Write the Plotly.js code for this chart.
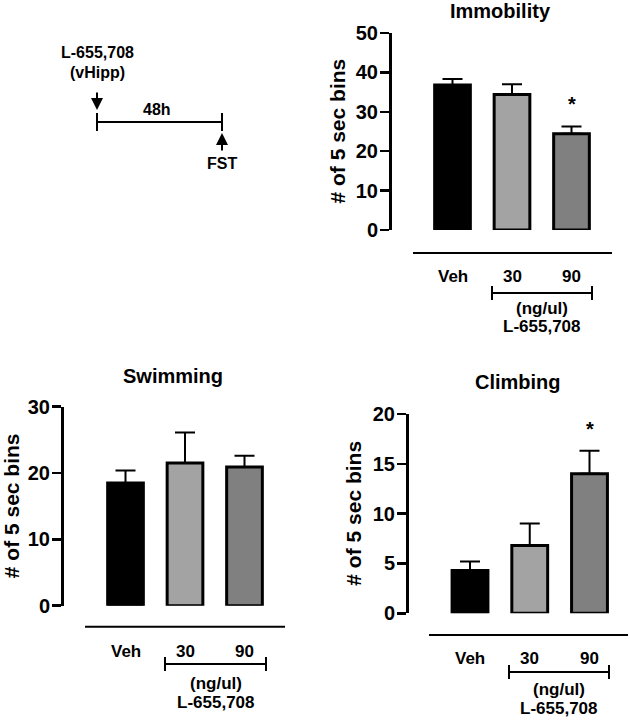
<!DOCTYPE html>
<html><head><meta charset="utf-8">
<script src="https://cdn.plot.ly/plotly-3.0.1.min.js"></script>
<style>html,body{margin:0;padding:0;background:#fff}#chart{width:630px;height:720px}</style>
</head><body><div id="chart"></div>
<script>
// ---- data ----
const groups = ['Veh', '30', '90'];
const immobilityMean = [36.8, 34.4, 24.4];
const immobilityErr = [1.5, 2.6, 1.9];
const swimmingMean = [18.5, 21.5, 20.9];
const swimmingErr = [1.9, 4.6, 1.7];
const climbingMean = [4.3, 6.8, 14.0];
const climbingErr = [0.9, 2.2, 2.3];
const immobilitySig = [false, false, true];
const swimmingSig = [false, false, false];
const climbingSig = [false, false, true];
const barColors = ['#000000', '#a3a3a3', '#808080'];
const yTitle = '# of 5 sec bins';
const doseUnit = '(ng/ul)';
const drugName = 'L-655,708';
const timelineSite = '(vHipp)';
const timelineDelay = '48h';
const timelineTest = 'FST';

// ---- geometry (pixels) ----
const W = 630, H = 720;
const fx = p => p / W, fy = p => 1 - p / H;
const FONT = '"Liberation Sans", Arial, Helvetica, sans-serif';

const panels = [
  {name: 'Immobility', mean: immobilityMean, err: immobilityErr, sig: immobilitySig, yMax: 50, dtick: 10,
   axisX: 390, y0: 230, y1: 33, c0: 452.5, sp: 59.5, lineY: 253, lineL: 413, lineR: 612,
   labY: 276, brY: 293, brL: 492, brR: 592, unitY: 308, drugY: 327, titleX: 500, titleY: 11, yTitleX: 337},
  {name: 'Swimming', mean: swimmingMean, err: swimmingErr, sig: swimmingSig, yMax: 30, dtick: 10,
   axisX: 62, y0: 605.7, y1: 406.7, c0: 125.5, sp: 59.5, lineY: 626.7, lineL: 85, lineR: 285,
   labY: 651, brY: 664, brL: 165, brR: 266, unitY: 683, drugY: 702, titleX: 173, titleY: 376, yTitleX: 11},
  {name: 'Climbing', mean: climbingMean, err: climbingErr, sig: climbingSig, yMax: 20, dtick: 5,
   axisX: 407, y0: 613.3, y1: 414, c0: 470, sp: 59.75, lineY: 635, lineL: 429, lineR: 628,
   labY: 658, brY: 672, brL: 509, brR: 609, unitY: 689, drugY: 708, titleX: 518, titleY: 382, yTitleX: 354}
];

const traces = [];
const layout = {
  width: W, height: H, margin: {l: 0, r: 0, t: 0, b: 0},
  paper_bgcolor: '#fff', plot_bgcolor: 'rgba(0,0,0,0)',
  showlegend: false, font: {family: FONT, color: '#000'},
  shapes: [], annotations: []
};

function txt(x, y, text, size, extra) {
  return Object.assign({xref: 'paper', yref: 'paper', x: x, y: y, text: text, showarrow: false,
    xanchor: 'center', yanchor: 'middle', font: {family: FONT, size: size, color: '#000', weight: 'bold'}}, extra || {});
}
function line(x0, y0, x1, y1, w) {
  return {type: 'line', xref: 'paper', yref: 'paper', x0: fx(x0), y0: fy(y0), x1: fx(x1), y1: fy(y1),
    line: {color: '#000', width: w || 2}};
}

panels.forEach((p, i) => {
  const sfx = i === 0 ? '' : String(i + 1);
  const xa = 'x' + sfx, ya = 'y' + sfx;
  traces.push({
    type: 'bar', x: groups, y: p.mean, xaxis: xa, yaxis: ya, width: 0.6,
    marker: {color: barColors, line: {color: '#000', width: 3}},
    error_y: {type: 'data', symmetric: false, array: p.err, arrayminus: p.err.map(() => 0),
      color: '#000', thickness: 2, width: 10},
    hoverinfo: 'none', cliponaxis: false
  });
  const xl = (p.lineL - p.c0) / p.sp, xr = (p.lineR - p.c0) / p.sp;
  layout['xaxis' + sfx] = {domain: [fx(p.lineL), fx(p.lineR)], range: [xl, xr], type: 'category',
    anchor: ya, visible: false, fixedrange: true};
  layout['yaxis' + sfx] = {domain: [fy(p.y0), fy(p.y1)], range: [0, p.yMax], anchor: 'free', position: fx(p.axisX),
    showline: true, linewidth: 2.5, linecolor: '#000', ticks: 'outside', ticklen: 9, tickwidth: 2.5, tickcolor: '#000',
    dtick: p.dtick, tick0: 0, showgrid: false, zeroline: false, fixedrange: true, ticklabelstandoff: -2,
    tickfont: {family: FONT, size: 20, color: '#000', weight: 'bold'}};
  // title & y title
  layout.annotations.push(txt(fx(p.titleX), fy(p.titleY), p.name, 20));
  layout.annotations.push(txt(fx(p.yTitleX), fy((p.y0 + p.y1) / 2), yTitle, 21, {textangle: -90}));
  // group labels on the category axis (index positions)
  groups.forEach((g, k) => {
    layout.annotations.push(Object.assign(txt(k, fy(p.labY), g, 17), {xref: xa}));
  });
  // significance stars
  p.sig.forEach((s, k) => {
    if (s) layout.annotations.push(Object.assign(txt(k, p.mean[k] + p.err[k], '*', 20),
      {xref: xa, yref: ya, yshift: 22}));
  });
  // separator line and bracket
  layout.shapes.push(line(p.lineL, p.lineY, p.lineR, p.lineY, 2));
  layout.shapes.push(line(p.brL, p.brY, p.brR, p.brY, 2));
  layout.shapes.push(line(p.brL, p.brY - 7, p.brL, p.brY + 7, 2));
  layout.shapes.push(line(p.brR, p.brY - 7, p.brR, p.brY + 7, 2));
  const bc = (p.brL + p.brR) / 2;
  layout.annotations.push(txt(fx(bc), fy(p.unitY), doseUnit, 17));
  layout.annotations.push(txt(fx(bc), fy(p.drugY), drugName, 17));
});

// ---- timeline diagram ----
layout.annotations.push(txt(fx(97), fy(53), drugName, 16));
layout.annotations.push(txt(fx(97), fy(73), timelineSite, 16));
layout.annotations.push(txt(fx(157), fy(109), timelineDelay, 16));
layout.annotations.push(txt(fx(222), fy(164), timelineTest, 16));
layout.shapes.push(line(97, 122, 222, 122, 2));
layout.shapes.push(line(97, 113, 97, 131, 2));
layout.shapes.push(line(222, 113, 222, 131, 2));
layout.annotations.push({xref: 'paper', yref: 'paper', x: fx(97), y: fy(110), ax: 0, ay: -19, text: '',
  showarrow: true, arrowhead: 2, arrowsize: 1.2, arrowwidth: 2, arrowcolor: '#000'});
layout.annotations.push({xref: 'paper', yref: 'paper', x: fx(222), y: fy(133), ax: 0, ay: 19, text: '',
  showarrow: true, arrowhead: 2, arrowsize: 1.2, arrowwidth: 2, arrowcolor: '#000'});

Plotly.newPlot('chart', traces, layout, {staticPlot: true, displayModeBar: false});
</script>
</body></html>
